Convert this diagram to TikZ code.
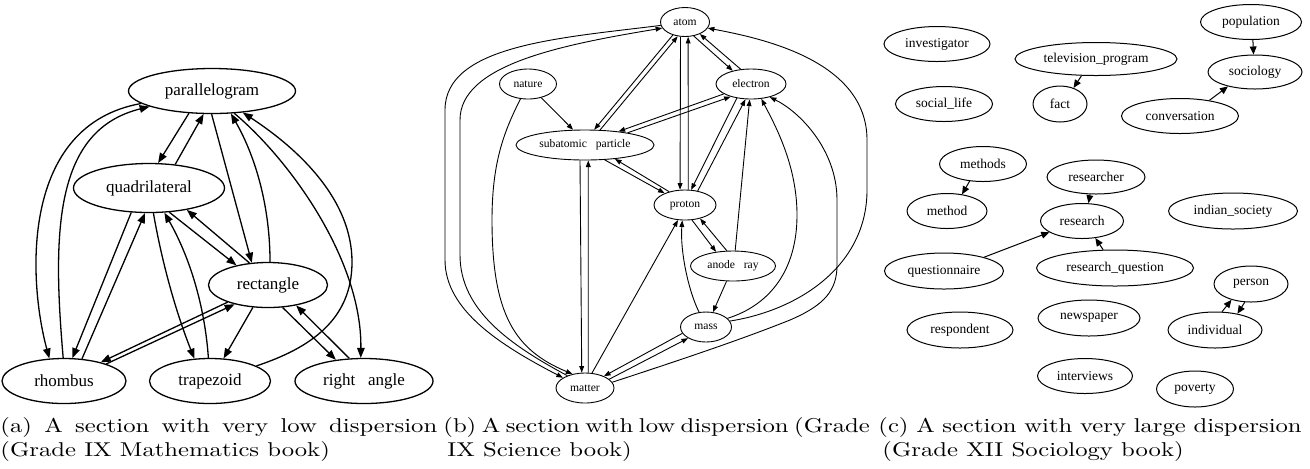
\documentclass[tikz,border=0pt]{standalone}
\usepackage{fontspec}
\usepackage{graphicx}
\newfontfamily\gvfont{Liberation Serif}
\usetikzlibrary{shapes.geometric,arrows.meta}
\tikzset{
 gvA/.style={ellipse, draw, line width=0.65pt, inner sep=0pt, font=\gvfont\fontsize{8.5}{10}\selectfont},
 gvB/.style={ellipse, draw, line width=0.45pt, inner sep=0pt, minimum height=15pt, font=\gvfont\fontsize{5.8}{7}\selectfont},
 gvC/.style={ellipse, draw, line width=0.5pt, inner sep=0pt, font=\gvfont\fontsize{6.75}{8}\selectfont},
 edgeA/.style={line width=0.65pt, -{Triangle[length=5pt,width=3.8pt]}},
 edgeB/.style={line width=0.45pt, -{Triangle[length=3.3pt,width=2.4pt]}},
 edgeC/.style={line width=0.5pt, -{Triangle[length=4pt,width=3.4pt]}},
 captext/.style={anchor=base west, inner sep=0pt}
}
\begin{document}
\begin{tikzpicture}[x=0.5pt,y=-0.5pt]
\useasboundingbox (0,0) rectangle (1310,468);
% ---------- panel (a)
\node[gvA, minimum width=83.5pt, minimum height=22.5pt] (par) at (212,91) {parallelogram};
\node[gvA, minimum width=75.5pt, minimum height=24.5pt] (quad) at (149,188) {quadrilateral};
\node[gvA, minimum width=59.5pt, minimum height=22.5pt] (rect) at (268,285) {rectangle};
\node[gvA, minimum width=62pt, minimum height=22.5pt] (rhom) at (64,381) {rhombus};
\node[gvA, minimum width=60.5pt, minimum height=22.5pt] (trap) at (210,381) {trapezoid};
\node[gvA, minimum width=69pt, minimum height=22.5pt] (rang) at (364,381) {right\enspace\ angle};

\draw[edgeA] (par.-136) -- (quad.70);
\draw[edgeA] (quad.42) -- (par.-110);
\draw[edgeA] (par.-170) .. controls (20,125) and (28,280) .. (rhom.123);
\draw[edgeA] (rhom.92) .. controls (52,230) and (55,130) .. (par.-166);
\draw[edgeA] (quad.-126) -- (rhom.70);
\draw[edgeA] (rhom.51) -- (quad.-99);
\draw[edgeA] (quad.-80) .. controls (162,262.7) and (175.8,311.7) .. (trap.125);
\draw[edgeA] (trap.94) .. controls (204.8,306.3) and (189.9,257.4) .. (quad.-58);
\draw[edgeA] (quad.-50) -- (rect.148);
\draw[edgeA] (rect.130) -- (quad.-30);
\draw[edgeA] (par.-91) -- (rect.126);
\draw[edgeA] (rect.85) .. controls (270,209.5) and (257.1,159.5) .. (par.-50);
\draw[edgeA] (par.-45) .. controls (290,160) and (362,260) .. (rang.98);
\draw[edgeA] (trap.18) .. controls (310,348) and (352,320) .. (352,262) .. controls (352,200) and (300,150) .. (par.-35);
\draw[edgeA] (rect.-157) -- (rhom.27);
\draw[edgeA] (rhom.22) -- (rect.-150);
\draw[edgeA] (rect.-124) -- (trap.59);
\draw[edgeA] (rect.-57) -- (rang.143);
\draw[edgeA] (rang.123) -- (rect.-36);

% ---------- panel (b)
\node[gvB, minimum width=24.5pt, minimum height=14.5pt] (atom) at (685,22) {atom};
\node[gvB, minimum width=28.5pt] (nature) at (528,84) {nature};
\node[gvB, minimum width=35pt] (electron) at (751,84) {electron};
\node[gvB, minimum width=69pt] (sub) at (585,145) {subatomic\enspace\ particle};
\node[gvB, minimum width=31pt] (proton) at (685,205) {proton};
\node[gvB, minimum width=42.5pt] (anode) at (733,266) {anode\enspace\ ray};
\node[gvB, minimum width=25.5pt] (mass) at (706,327) {mass};
\node[gvB, minimum width=29pt] (matter) at (585,388) {matter};

\draw[edgeB] (atom.-133) -- (sub.59);
\draw[edgeB] (sub.45) -- (atom.-117);
\draw[edgeB] (atom.-107) -- (proton.108);
\draw[edgeB] (proton.78) -- (atom.-78);
\draw[edgeB] (atom.-58) -- (electron.144);
\draw[edgeB] (electron.125) -- (atom.-39);
\draw[edgeB] (electron.-160) -- (sub.22);
\draw[edgeB] (sub.16) -- (electron.-148);
\draw[edgeB] (nature.-46) -- (sub.128);
\draw[edgeB] (nature.-117) .. controls (505,130) and (492,160) .. (492,220) .. controls (492,315) and (515,350) .. (matter.132);
\draw[edgeB] (atom.-172) .. controls (560,38) and (445,45) .. (445,110) -- (445,260) .. controls (445,310) and (500,345) .. (matter.155);
\draw[edgeB] (matter.145) .. controls (510,345) and (460,310) .. (460,255) -- (460,120) .. controls (460,65) and (560,45) .. (atom.-165);
\draw[edgeB] (sub.-108) -- (matter.102);
\draw[edgeB] (matter.78) -- (sub.-78);
\draw[edgeB] (sub.-37) -- (proton.150);
\draw[edgeB] (proton.140) -- (sub.-25);
\draw[edgeB] (electron.-135) -- (proton.68);
\draw[edgeB] (proton.48) -- (electron.-110);
\draw[edgeB] (anode.82) -- (electron.-95);
\draw[edgeB] (mass.22) .. controls (770,305) and (797,270) .. (797,215) .. controls (797,165) and (775,125) .. (electron.-55);
\draw[edgeB] (matter.12) .. controls (680,360) and (740,340) .. (790,320) .. controls (825,305) and (837,290) .. (837,265) -- (837,200) .. controls (837,150) and (800,112) .. (electron.-35);
\draw[edgeB] (mass.14) .. controls (800,310) and (867,265) .. (867,190) -- (867,140) .. controls (867,60) and (760,38) .. (atom.-15);
\draw[edgeB] (proton.-65) -- (anode.140);
\draw[edgeB] (anode.112) -- (proton.-42);
\draw[edgeB] (anode.-113) -- (mass.65);
\draw[edgeB] (mass.115) .. controls (688,290) and (680,250) .. (proton.-100);
\draw[edgeB] (matter.65) -- (proton.-115);
\draw[edgeB] (mass.-165) -- (matter.32);
\draw[edgeB] (matter.20) -- (mass.-148);

% ---------- panel (c)
\node[gvC, minimum width=53pt, minimum height=17.5pt] (investigator) at (937,44) {investigator};
\node[gvC, minimum width=81pt, minimum height=16.5pt] (tv) at (1096,59) {television\_program};
\node[gvC, minimum width=50.5pt, minimum height=17.5pt] (population) at (1251,22) {population};
\node[gvC, minimum width=47pt, minimum height=17pt] (sociology) at (1255,72) {sociology};
\node[gvC, minimum width=48.5pt, minimum height=17.5pt] (sociallife) at (944,104) {social\_life};
\node[gvC, minimum width=27pt, minimum height=18pt] (fact) at (1060,104) {fact};
\node[gvC, minimum width=58.5pt, minimum height=17.5pt] (conversation) at (1180,116) {conversation};
\node[gvC, minimum width=43.5pt, minimum height=17.5pt] (methods) at (983,164) {methods};
\node[gvC, minimum width=49pt, minimum height=17pt] (researcher) at (1096,177) {researcher};
\node[gvC, minimum width=40pt, minimum height=17.5pt] (method) at (947,211) {method};
\node[gvC, minimum width=41.5pt, minimum height=17.5pt] (research) at (1082,221) {research};
\node[gvC, minimum width=64.5pt, minimum height=18pt] (indian) at (1233,211) {indian\_society};
\node[gvC, minimum width=59.5pt, minimum height=18pt] (questionnaire) at (944,271) {questionnaire};
\node[gvC, minimum width=78.5pt, minimum height=18pt] (rq) at (1115,268) {research\_question};
\node[gvC, minimum width=37pt, minimum height=18pt] (person) at (1251,284) {person};
\node[gvC, minimum width=51pt, minimum height=18pt] (newspaper) at (1089,318) {newspaper};
\node[gvC, minimum width=53pt, minimum height=18pt] (respondent) at (960,330) {respondent};
\node[gvC, minimum width=47pt, minimum height=18pt] (individual) at (1215,330) {individual};
\node[gvC, minimum width=47.5pt, minimum height=17.5pt] (interviews) at (1085,376) {interviews};
\node[gvC, minimum width=38.5pt, minimum height=18pt] (poverty) at (1195,389) {poverty};

\draw[edgeC] (tv.-131) -- (fact.50);
\draw[edgeC] (population.-84) -- (sociology.95);
\draw[edgeC] (conversation.28) -- (sociology.-152);
\draw[edgeC] (methods.-128) -- (method.48);
\draw[edgeC] (researcher.-109) -- (research.70);
\draw[edgeC] (questionnaire.19) -- (research.-161);
\draw[edgeC] (rq.123) -- (research.-52);
\draw[edgeC] (individual.69) -- (person.-141);
\draw[edgeC] (person.-109) -- (individual.36);

% ---------- captions
\node[captext] (capa1) at (0,432) {\scalebox{1.234}[1]{\makebox[177pt][s]{(a) A section with very low dispersion}}};
\node[captext] (capa2) at (0,456.3) {\scalebox{1.234}[1]{(Grade IX Mathematics book)}};
\node[captext] (capb1) at (443,432) {\scalebox{1.234}[1]{\makebox[171.5pt][s]{(b) A section with low dispersion (Grade}}};
\node[captext] (capb2) at (447,456.3) {\scalebox{1.234}[1]{IX Science book)}};
\node[captext] (capc1) at (878,432) {\scalebox{1.234}[1]{\makebox[171.5pt][s]{(c) A section with very large dispersion}}};
\node[captext] (capc2) at (882,456.3) {\scalebox{1.234}[1]{(Grade XII Sociology book)}};
\end{tikzpicture}
\end{document}
